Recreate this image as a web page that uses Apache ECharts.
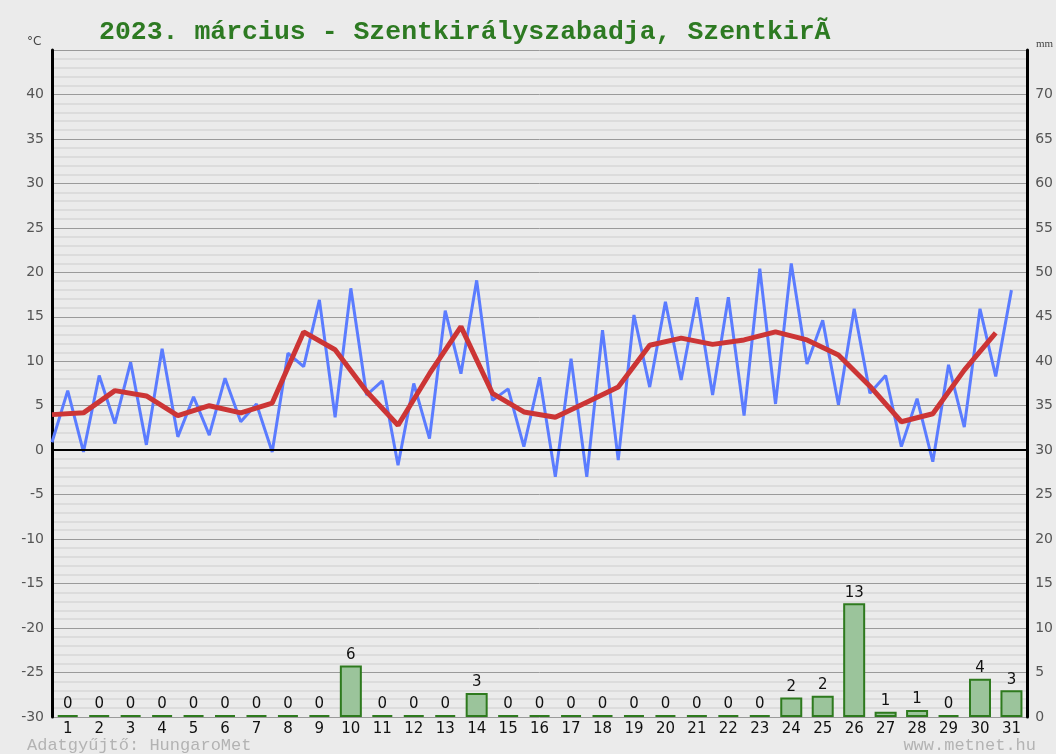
<!DOCTYPE html>
<html>
<head>
<meta charset="utf-8">
<script src="https://cdn.jsdelivr.net/npm/echarts@6/dist/echarts.min.js"></script>
<style>
    html, body { margin: 0; padding: 0; background: #ebebeb; }
    #chart { width: 1056px; height: 754px; }
</style>
</head>
<body>
<div id="chart"></div>
<script>
var days = [];
for (var d = 1; d <= 31; d++) days.push(String(d));

// daily minimum / maximum / mean temperature, °C
var tMin = [0.9, -0.2, 3.0, 0.6, 1.5, 1.7, 3.2, -0.2, 9.4, 3.7, 6.2, -1.7, 1.3, 8.6, 5.6, 0.4,
    -3.0, -3.0, -1.1, 7.1, 7.9, 6.2, 3.9, 5.2, 9.7, 5.1, 6.4, 0.4, -1.3, 2.6, 8.3];
var tMax = [6.7, 8.4, 9.9, 11.4, 6.0, 8.1, 5.2, 10.9, 16.9, 18.2, 7.8, 7.5, 15.7, 19.1, 6.9, 8.2,
    10.3, 13.5, 15.2, 16.7, 17.2, 17.2, 20.4, 21.0, 14.6, 15.9, 8.4, 5.8, 9.6, 15.9, 18.0];
var tAvg = [4.0, 4.2, 6.7, 6.1, 3.9, 5.0, 4.2, 5.3, 13.3, 11.3, 6.6, 2.8, 8.6, 13.9, 6.4, 4.3,
    3.7, 5.4, 7.1, 11.8, 12.6, 11.9, 12.4, 13.3, 12.4, 10.7, 7.2, 3.2, 4.1, 9.0, 13.2];
// daily precipitation, mm
var rain = [0, 0, 0, 0, 0, 0, 0, 0, 0, 5.8, 0, 0, 0, 2.7, 0, 0, 0, 0, 0, 0, 0, 0, 0,
    2.2, 2.4, 12.8, 0.6, 0.8, 0, 4.3, 3.0];

var titleText = '2023. március - Szentkirályszabadja, SzentkirÃ';

// min at start of the day, max at mid-day -> zigzag
var zigzag = [];
for (var i = 0; i < tMin.length; i++) {
    zigzag.push([i, tMin[i]]);
    zigzag.push([i + 0.5, tMax[i]]);
}
var avgLine = tAvg.map(function(v, i) { return [i, v]; });

var chart = echarts.init(document.getElementById('chart'));
var option = {
    backgroundColor: '#ebebeb',
    animation: false,
    title: {
        text: titleText,
        left: 94,
        top: 14,
        textStyle: {
            fontFamily: 'Liberation Mono',
            fontWeight: 'bold',
            fontSize: 26.5,
            color: '#2d7a22'
        }
    },
    grid: {
        left: 52,
        right: 27,
        top: 50,
        bottom: 37
    },
    xAxis: [
        {
            type: 'category',
            data: days,
            axisLine: { show: false },
            axisTick: { show: false },
            axisLabel: {
                margin: 5,
                fontFamily: 'DejaVu Sans',
                fontSize: 15,
                color: '#111'
            }
        },
        {
            type: 'value',
            min: 0,
            max: 31,
            show: false
        }
    ],
    yAxis: [
        {
            type: 'value',
            min: -30,
            max: 45,
            interval: 5,
            axisLine: { show: true, onZero: false, lineStyle: { color: '#000', width: 3 } },
            axisTick: { show: false },
            axisLabel: {
                showMaxLabel: false,
                margin: 8,
                fontFamily: 'DejaVu Sans',
                fontSize: 14,
                color: '#555'
            },
            splitLine: { lineStyle: { color: '#9a9a9a', width: 1 } },
            minorTick: { show: false, splitNumber: 5 },
            minorSplitLine: { show: true, lineStyle: { color: '#d8d8d8', width: 1.5 } }
        },
        {
            type: 'value',
            position: 'right',
            min: 0,
            max: 75,
            interval: 5,
            axisLine: { show: true, onZero: false, lineStyle: { color: '#000', width: 3 } },
            axisTick: { show: false },
            axisLabel: {
                showMaxLabel: false,
                margin: 8,
                fontFamily: 'DejaVu Sans',
                fontSize: 14,
                color: '#555'
            },
            splitLine: { show: false }
        }
    ],
    series: [
        {
            type: 'bar',
            xAxisIndex: 0,
            yAxisIndex: 1,
            data: rain,
            barWidth: 22,
            barMinHeight: 2,
            itemStyle: {
                color: '#9bc49b',
                borderColor: '#2e7a1e',
                borderWidth: 2
            },
            label: {
                show: true,
                position: 'top',
                distance: 3,
                fontFamily: 'DejaVu Sans',
                fontSize: 15,
                color: '#111',
                formatter: function(p) { return Math.round(p.value); }
            }
        },
        {
            type: 'line',
            xAxisIndex: 1,
            yAxisIndex: 0,
            data: zigzag,
            symbol: 'none',
            lineStyle: { color: '#5b7cff', width: 3 },
            markLine: {
                silent: true,
                symbol: 'none',
                label: { show: false },
                lineStyle: { color: '#000', width: 2, type: 'solid' },
                data: [{ yAxis: 0 }]
            },
            z: 3
        },
        {
            type: 'line',
            xAxisIndex: 1,
            yAxisIndex: 0,
            data: avgLine,
            symbol: 'none',
            lineStyle: { color: '#cc3535', width: 5 },
            z: 4
        }
    ],
    graphic: [
        {
            type: 'text',
            left: 27,
            top: 36,
            style: { text: '°C', font: '12px "DejaVu Sans"', fill: '#444' }
        },
        {
            type: 'text',
            left: 1036,
            top: 39,
            style: { text: 'mm', font: '11px "Liberation Serif"', fill: '#444' }
        },
        {
            type: 'text',
            left: 27,
            top: 737,
            style: { text: 'Adatgyűjtő: HungaroMet', font: '17px "Liberation Mono"', fill: '#b3b3b3' }
        },
        {
            type: 'text',
            right: 20,
            top: 737,
            style: { text: 'www.metnet.hu', font: '17px "Liberation Mono"', fill: '#b3b3b3' }
        }
    ]
};
chart.setOption(option);
</script>
</body>
</html>
